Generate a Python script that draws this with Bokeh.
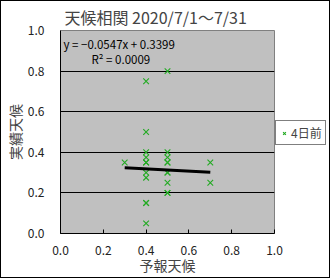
from bokeh.plotting import figure
from bokeh.layouts import row
from bokeh.models import (ColumnDataSource, Range1d, Label, Legend, LegendItem, FixedTicker,
                          Title, CustomJSTickFormatter)
from bokeh.embed import file_html
from bokeh.resources import INLINE

# data
forecast = [0.3, 0.4, 0.4, 0.4, 0.4, 0.4, 0.4, 0.4, 0.4, 0.4, 0.4, 0.4,
            0.5, 0.5, 0.5, 0.5, 0.5, 0.5, 0.5, 0.5, 0.5, 0.5, 0.7, 0.7]
actual = [0.35, 0.75, 0.5, 0.4, 0.375, 0.35, 0.3, 0.275, 0.15, 0.15, 0.05, 0.35,
          0.8, 0.4, 0.375, 0.35, 0.3, 0.3, 0.25, 0.2, 0.2, 0.35, 0.35, 0.25]
slope = -0.0547
intercept = 0.3399
r2 = 0.0009
ticks = [0.0, 0.2, 0.4, 0.6, 0.8, 1.0]
series_name = "4日前"
title_text = "天候相関 2020/7/1～7/31"
x_label = "予報天候"
y_label = "実績天候"

FONT = "Noto Sans CJK JP"
GREEN = "#22AA22"

p = figure(width=330, height=278, output_backend="svg", toolbar_location=None,
           x_range=Range1d(0, 1), y_range=Range1d(0, 1),
           min_border_left=57, min_border_right=57, min_border_top=29, min_border_bottom=46)
p.border_fill_color = "white"
p.background_fill_color = "#C0C0C0"
p.outline_line_color = "#808080"
p.outline_line_width = 1
p.styles = {"border": "1px solid black", "box-sizing": "border-box"}

p.xgrid.grid_line_color = None
p.ygrid.grid_line_color = "black"
p.ygrid.grid_line_width = 1

fmt = CustomJSTickFormatter(code="return tick.toFixed(1);")
for ax in (p.xaxis[0], p.yaxis[0]):
    ax.ticker = FixedTicker(ticks=ticks)
    ax.formatter = fmt
    ax.major_label_text_font = FONT
    ax.major_label_text_font_size = "12px"
    ax.major_label_text_color = "#222222"
    ax.axis_label_text_font = FONT
    ax.axis_label_text_font_size = "14px"
    ax.axis_label_text_font_style = "normal"
    ax.minor_tick_line_color = None
    ax.axis_line_color = "black"

p.xaxis.axis_label = x_label
p.yaxis.axis_label = y_label
p.xaxis.major_tick_in = 4
p.xaxis.major_tick_out = 0
p.yaxis.major_tick_in = 0
p.yaxis.major_tick_out = 0
p.xaxis.major_label_standoff = 12
p.yaxis.major_label_standoff = 16
p.xaxis.axis_label_standoff = -3
p.yaxis.axis_label_standoff = 0

p.title = Title(text=title_text, align="left", text_font=FONT, text_font_size="16px",
                text_font_style="normal", offset=4)
p.title.standoff = 3

src = ColumnDataSource(dict(x=forecast, y=actual))
r = p.scatter("x", "y", source=src, marker="x", size=8, line_color=GREEN, line_width=1.1)

x0, x1 = min(forecast), max(forecast)
trend = ColumnDataSource(dict(x=[x0, x1], y=[slope * x0 + intercept, slope * x1 + intercept]))
p.line("x", "y", source=trend, line_color="black", line_width=3)

p.add_layout(Label(x=3, y=190, x_units="screen", y_units="screen",
                   text=f"y = {slope}x + {intercept}".replace("-", "−"),
                   text_font=FONT, text_font_size="11.5px", text_color="black",
                   text_baseline="middle"))
p.add_layout(Label(x=31, y=175, x_units="screen", y_units="screen",
                   text=f"R² = {r2:.4f}", text_font=FONT, text_font_size="11.5px",
                   text_color="black", text_baseline="middle"))

# transparent overlay figure holding the legend, placed over the right margin
p2 = figure(width=58, height=278, output_backend="svg", toolbar_location=None,
            x_range=Range1d(0, 1), y_range=Range1d(0, 1),
            x_axis_location=None, y_axis_location=None,
            min_border_left=0, min_border_right=0, min_border_top=0, min_border_bottom=0)
p2.grid.visible = False
p2.outline_line_color = None
p2.background_fill_alpha = 0
p2.border_fill_alpha = 0
p2.styles = {"margin-left": "-58px"}
r2d = p2.scatter(x=[-5], y=[-5], marker="x", size=8, line_color=GREEN, line_width=1.1)

legend = Legend(items=[LegendItem(label=series_name, renderers=[r2d])],
                location=(3, 87), orientation="vertical",
                label_text_font=FONT, label_text_font_size="12px",
                glyph_width=10, glyph_height=14, padding=3, margin=0, spacing=0,
                label_standoff=2, label_width=30, label_height=14,
                border_line_color="black", border_line_width=1,
                background_fill_color="white", background_fill_alpha=1)
p2.add_layout(legend, "center")

layout = row(p, p2, spacing=0)
open("out.html", "w").write(file_html(layout, INLINE))
